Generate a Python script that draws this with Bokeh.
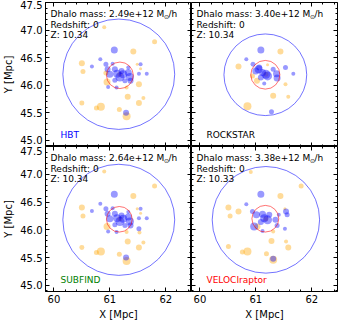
import numpy as np
from bokeh.plotting import figure
from bokeh.layouts import gridplot
from bokeh.models import (Range1d, LinearAxis, FixedTicker, CustomJSTickFormatter, Label)
from bokeh.embed import file_html
from bokeh.resources import INLINE

# ---------------- data ----------------
finders = ["HBT", "ROCKSTAR", "SUBFIND", "VELOCIraptor"]
finder_colors = ["#0000ff", "#000000", "#008000", "#ff0000"]
dhalo_mass = [2.49e12, 3.40e12, 2.64e12, 3.38e12]
redshift = [0, 0, 0, 0]
metal_z = [10.34, 10.34, 10.34, 10.33]

halo_x = [61.16, 61.17, 61.16, 61.18]
halo_y = [46.20, 46.19, 46.18, 46.18]
r_outer = [1.00, 0.74, 1.00, 0.96]
core_x = [61.18, 61.17, 61.17, 61.17]
core_y = [46.18, 46.19, 46.19, 46.20]
r_inner = [0.24, 0.26, 0.23, 0.24]

# blue (member) subhaloes
hbt_blue_x = [61.08, 60.83, 60.68, 60.93, 61.05, 60.96, 61.09, 61.00, 61.13, 61.18, 61.24, 61.21,
              61.33, 61.36, 61.33, 61.37, 61.27, 60.97, 61.12, 61.52, 61.66, 61.55, 61.29, 61.09]
hbt_blue_y = [46.64, 46.47, 46.34, 46.38, 46.39, 46.29, 46.29, 46.20, 46.21, 46.15, 46.20, 46.26,
              46.23, 46.15, 46.32, 46.08, 46.08, 45.97, 45.96, 46.21, 46.21, 46.38, 45.50, 46.09]
hbt_blue_s = [7, 4, 4, 5, 4, 6, 6, 7, 8, 9, 8, 6, 7, 8, 4, 6, 5, 4, 4, 4, 4, 4, 6, 5]
# orange (non-member) subhaloes
hbt_orng_x = [60.90, 61.80, 61.42, 60.50, 60.52, 61.49, 61.55, 61.52, 60.95, 61.30, 61.32, 61.52,
              61.60, 60.50, 60.76, 60.84, 61.17, 61.30, 61.18, 60.93]
hbt_orng_y = [47.05, 46.79, 46.61, 46.40, 46.25, 46.38, 46.30, 46.02, 46.06, 45.96, 45.79, 45.68,
              45.77, 45.68, 45.59, 45.61, 45.56, 45.44, 46.20, 46.22]
hbt_orng_s = [4, 5, 6, 6, 5, 3, 3, 6, 7, 4, 6, 6, 4, 5, 5, 8, 5, 8, 5, 5]

rock_blue_x = [61.09, 60.83, 60.95, 61.06, 61.00, 61.12, 61.18, 61.21, 61.09, 61.05, 61.31, 61.37,
               61.38, 61.53, 61.67, 61.15, 61.28]
rock_blue_y = [46.64, 46.47, 46.38, 46.32, 46.26, 46.23, 46.20, 46.17, 46.14, 46.29, 46.29, 46.21,
               46.13, 46.32, 46.21, 46.03, 45.52]
rock_blue_s = [7, 4, 5, 6, 7, 7, 9, 9, 6, 8, 5, 7, 7, 5, 4, 4, 5]
rock_orng_x = [61.44, 60.69, 61.21, 61.02, 61.53, 61.31, 61.58, 60.85, 61.18, 60.94]
rock_orng_y = [46.61, 46.34, 46.37, 46.08, 46.02, 45.81, 45.79, 45.62, 46.20, 46.17]
rock_orng_s = [6, 6, 3, 6, 4, 6, 4, 8, 5, 5]

subf_blue_x = [61.08, 60.83, 60.68, 60.93, 61.05, 60.96, 61.09, 61.00, 61.13, 61.18, 61.24, 61.21,
               61.33, 61.36, 61.33, 61.37, 61.27, 60.97, 61.12, 61.52, 61.66, 61.55, 61.29, 61.09,
               61.52]
subf_blue_y = [46.64, 46.47, 46.34, 46.38, 46.39, 46.29, 46.29, 46.20, 46.21, 46.15, 46.20, 46.26,
               46.23, 46.15, 46.32, 46.08, 46.08, 45.97, 45.96, 46.21, 46.21, 46.38, 45.50, 46.09,
               46.02]
subf_blue_s = [7, 4, 4, 5, 4, 6, 6, 7, 8, 9, 8, 6, 7, 8, 4, 6, 5, 4, 4, 4, 4, 4, 6, 5, 5]
subf_orng_x = [60.90, 61.80, 61.42, 60.50, 60.52, 61.49, 61.55, 61.53, 60.95, 61.30, 61.32, 61.52,
               61.60, 60.50, 60.76, 60.84, 61.17, 61.30, 61.18]
subf_orng_y = [47.05, 46.79, 46.61, 46.40, 46.25, 46.38, 46.30, 45.95, 46.06, 45.96, 45.79, 45.68,
               45.77, 45.68, 45.59, 45.61, 45.56, 45.44, 46.20]
subf_orng_s = [4, 5, 6, 6, 5, 3, 3, 4, 7, 4, 6, 6, 4, 5, 5, 8, 5, 8, 5]

velo_blue_x = [61.09, 60.83, 60.94, 61.01, 61.12, 61.15, 61.21, 61.09, 60.97, 61.24, 61.35, 61.38,
               61.54, 61.56, 61.41, 61.52, 61.12, 61.31]
velo_blue_y = [46.64, 46.46, 46.33, 46.27, 46.28, 46.21, 46.18, 46.14, 46.06, 46.27, 46.18, 46.08,
               46.33, 46.27, 46.27, 46.02, 45.98, 45.48]
velo_blue_s = [7, 4, 5, 7, 7, 8, 9, 6, 8, 6, 6, 5, 6, 5, 4, 4, 4, 6]
velo_orng_x = [60.91, 61.81, 61.44, 60.51, 60.54, 60.69, 61.52, 61.28, 61.54, 61.58, 60.51, 60.76,
               60.85, 61.19, 61.31, 61.03, 61.31, 61.18]
velo_orng_y = [47.04, 46.79, 46.61, 46.40, 46.25, 46.33, 46.38, 45.80, 45.79, 45.68, 45.70, 45.60,
               45.61, 45.57, 45.46, 46.06, 45.97, 46.20]
velo_orng_s = [4, 5, 6, 6, 5, 6, 3, 6, 4, 6, 5, 5, 8, 5, 8, 6, 4, 5]

blue_sets = [(hbt_blue_x, hbt_blue_y, hbt_blue_s), (rock_blue_x, rock_blue_y, rock_blue_s),
             (subf_blue_x, subf_blue_y, subf_blue_s), (velo_blue_x, velo_blue_y, velo_blue_s)]
orng_sets = [(hbt_orng_x, hbt_orng_y, hbt_orng_s), (rock_orng_x, rock_orng_y, rock_orng_s),
             (subf_orng_x, subf_orng_y, subf_orng_s), (velo_orng_x, velo_orng_y, velo_orng_s)]

x_major = [60, 61, 62]
y_major = [45.0, 45.5, 46.0, 46.5, 47.0, 47.5]

# ---------------- layout ----------------
X0, X1 = 59.85, 62.46
Y0, Y1 = 44.89, 47.5
FONT = "DejaVu Sans"

x_minor = [v for v in np.round(np.arange(59.8, 62.6, 0.2), 1) if X0 <= v <= X1]
y_minor = [v for v in np.round(np.arange(44.8, 47.6, 0.1), 1) if Y0 <= v <= Y1]

xfmt = CustomJSTickFormatter(code="return tick.toFixed(0);")
yfmt = CustomJSTickFormatter(code="return tick.toFixed(1);")
blank = CustomJSTickFormatter(code="return '';")


def make_axis(is_x, labelled, fixed=None, label=None):
    major, minor = (x_major, x_minor) if is_x else (y_major, y_minor)
    kw = dict(ticker=FixedTicker(ticks=major, minor_ticks=minor),
              formatter=(xfmt if is_x else yfmt) if labelled else blank,
              major_tick_in=4, major_tick_out=0, minor_tick_in=2, minor_tick_out=0,
              major_tick_line_color="black", minor_tick_line_color="black",
              axis_line_color="black",
              major_label_text_font=FONT, major_label_text_font_size="10px",
              major_label_text_color="black", major_label_standoff=3)
    if fixed is not None:
        kw["fixed_location"] = fixed
    if label is not None:
        kw.update(axis_label=label, axis_label_text_font=FONT, axis_label_text_font_size="10px",
                  axis_label_text_font_style="normal", axis_label_text_color="black",
                  axis_label_standoff=3)
    return LinearAxis(**kw)


positions = [(0, 0), (1, 0), (0, 1), (1, 1)]  # (column, row) with row 0 on top
figs = [[None, None], [None, None]]
for i, name in enumerate(finders):
    c, r = positions[i]
    p = figure(frame_width=146, frame_height=144 if r == 0 else 145,
               x_range=Range1d(X0, X1), y_range=Range1d(Y0, Y1),
               x_axis_type=None, y_axis_type=None,
               output_backend="svg", toolbar_location=None,
               min_border_left=45 if c == 0 else 0, min_border_right=1 if c == 1 else 0,
               min_border_top=2 if r == 0 else 0, min_border_bottom=30 if r == 1 else 0)
    p.outline_line_color = "black"
    p.outline_line_width = 1
    p.background_fill_color = "white"
    p.border_fill_color = "white"

    # ticks on all four sides, labels only on the outer left / bottom edges
    if r == 1:
        p.add_layout(make_axis(True, True, label="X [Mpc]"), "below")
    else:
        p.add_layout(make_axis(True, False, fixed=Y0), "below")
    if c == 0:
        p.add_layout(make_axis(False, True, label="Y [Mpc]"), "left")
    else:
        p.add_layout(make_axis(False, False, fixed=X0), "left")
    p.add_layout(make_axis(True, False, fixed=Y1), "above")
    p.add_layout(make_axis(False, False, fixed=X1), "right")

    bx, by, bs = blue_sets[i]
    ox, oy, os_ = orng_sets[i]
    p.scatter(x=ox, y=oy, size=os_, fill_color="orange", fill_alpha=0.4, line_color=None)
    p.scatter(x=bx, y=by, size=bs, fill_color="#0000ff", fill_alpha=0.4, line_color=None)
    p.ellipse(x=[halo_x[i]], y=[halo_y[i]], width=[2 * r_outer[i]], height=[2 * r_outer[i]],
              fill_color=None, line_color="#0000ff", line_alpha=0.55, line_width=1)
    p.ellipse(x=[core_x[i]], y=[core_y[i]], width=[2 * r_inner[i]], height=[2 * r_inner[i]],
              fill_color=None, line_color="#ff0000", line_alpha=0.55, line_width=1)

    txt = dict(text_font=FONT, text_font_size="9px", text_color="black", text_baseline="middle")
    p.add_layout(Label(x=X0, y=Y1, x_offset=5, y_offset=-11.5,
                       text="Dhalo mass: %.2e M" % dhalo_mass[i], **txt))
    p.add_layout(Label(x=X0, y=Y1, x_offset=118.5, y_offset=-13.5, text="\u2299",
                       text_font=FONT, text_font_size="6px", text_color="black", text_baseline="middle"))
    p.add_layout(Label(x=X0, y=Y1, x_offset=123, y_offset=-11.5, text="/h", **txt))
    p.add_layout(Label(x=X0, y=Y1, x_offset=5, y_offset=-22, text="Redshift: %d" % redshift[i], **txt))
    p.add_layout(Label(x=X0, y=Y1, x_offset=5, y_offset=-32.5, text="Z: %.2f" % metal_z[i], **txt))
    p.add_layout(Label(x=X0, y=Y0, x_offset=15, y_offset=12, text=name,
                       text_font=FONT, text_font_size="9px", text_color=finder_colors[i],
                       text_baseline="middle"))
    figs[r][c] = p

grid = gridplot(figs, toolbar_location=None)
open("out.html", "w").write(file_html(grid, INLINE))
